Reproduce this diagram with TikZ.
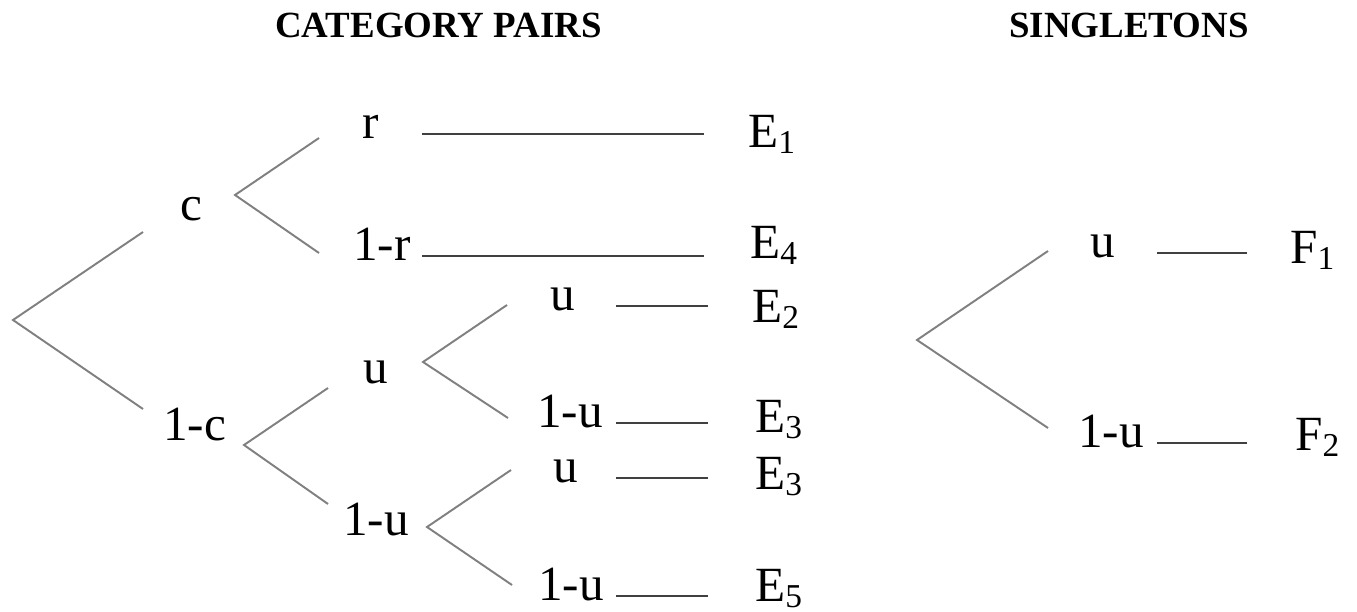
\documentclass[tikz,border=0pt]{standalone}
\usepackage{fontspec}
\setmainfont{Liberation Serif}
\usetikzlibrary{positioning}
\newcommand{\idx}[1]{\raisebox{-0.13em}{\fontsize{19}{20}\selectfont #1}}

\begin{document}
\begin{tikzpicture}[
  x=0.02cm, y=-0.02cm,
  branch/.style={draw=black!50, line width=1.1pt},
  hline/.style={draw=black!75, line width=1.1pt},
  lbl/.style={font=\fontsize{28}{34}\selectfont, inner sep=0pt, anchor=base west},
  heading/.style={font=\fontsize{21}{25}\selectfont\bfseries, inner sep=0pt, anchor=base west}
]
\useasboundingbox (0,0) rectangle (1357,612);

\node[heading] (pairs) at (275,37) {CATEGORY PAIRS};
\node[heading] (single) at (1009,37) {SINGLETONS};

% branch labels
\node[lbl] (c) at (180,220) {c};
\node[lbl] (nc) at (163,440) {1-c};
\node[lbl] (r) at (362,138) {r};
\node[lbl] (nr) at (353,260) {1-r};
\node[lbl] (u) at (363,383) {u};
\node[lbl] (nu) at (343,535) {1-u};
\node[lbl] (uu) at (550,310) {u};
\node[lbl] (unu) at (537,427) {1-u};
\node[lbl] (nuu) at (553,482) {u};
\node[lbl] (nunu) at (538,600) {1-u};
\node[lbl] (su) at (1090,257) {u};
\node[lbl] (snu) at (1078,447) {1-u};

% outcomes
\node[lbl] (e1) at (748,147) {E\idx{1}};
\node[lbl] (e4) at (750,258) {E\idx{4}};
\node[lbl] (e2) at (752,322) {E\idx{2}};
\node[lbl] (e3a) at (755,432) {E\idx{3}};
\node[lbl] (e3b) at (755,489) {E\idx{3}};
\node[lbl] (e5) at (755,601) {E\idx{5}};
\node[lbl] (f1) at (1290,263) {F\idx{1}};
\node[lbl] (f2) at (1295,450) {F\idx{2}};

% forks
\coordinate (root) at (13,320);
\coordinate (fc) at (235,195);
\coordinate (fnc) at (244,445);
\coordinate (fu) at (423,362);
\coordinate (fnu) at (427,527);
\coordinate (fs) at (917,340);

\draw[branch] (root) ++(130,-88) -- (root) -- ++(130,89);
\draw[branch] (fc) ++(84,-57) -- (fc) -- ++(84,58);
\draw[branch] (fnc) ++(84,-57) -- (fnc) -- ++(84,59);
\draw[branch] (fu) ++(84,-57) -- (fu) -- ++(85,56);
\draw[branch] (fnu) ++(84,-57) -- (fnu) -- ++(85,58);
\draw[branch] (fs) ++(131,-89) -- (fs) -- ++(131,88);

% columns of the outcome lines
\coordinate (ca) at (422,0);
\coordinate (cb) at (704,0);
\coordinate (cc) at (616,0);
\coordinate (cd) at (708,0);
\coordinate (ce) at (1157,0);
\coordinate (cf) at (1247,0);

\draw[hline] (r.mid -| ca) -- (r.mid -| cb);
\draw[hline] (nr.mid -| ca) -- (nr.mid -| cb);
\draw[hline] (uu.mid -| cc) -- (uu.mid -| cd);
\draw[hline] (unu.mid -| cc) -- (unu.mid -| cd);
\draw[hline] (nuu.mid -| cc) -- (nuu.mid -| cd);
\draw[hline] (nunu.mid -| cc) -- (nunu.mid -| cd);
\draw[hline] (su.mid -| ce) -- (su.mid -| cf);
\draw[hline] (snu.mid -| ce) -- (snu.mid -| cf);

\end{tikzpicture}
\end{document}
